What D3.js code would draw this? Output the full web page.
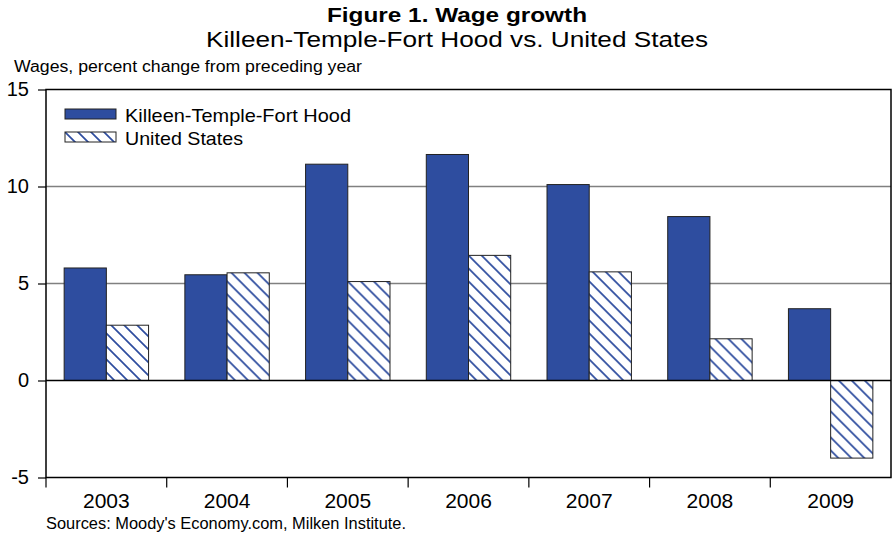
<!DOCTYPE html>
<html>
<head>
<meta charset="utf-8">
<script src="https://cdn.jsdelivr.net/npm/d3@7"></script>
<style>
  html, body { margin: 0; padding: 0; background: #fff; }
  svg { display: block; font-family: "Liberation Sans", Arial, sans-serif; }
</style>
</head>
<body>
<svg id="chart" width="892" height="533"></svg>
<script>
// Annual wage growth, percent change from preceding year
const years = ["2003", "2004", "2005", "2006", "2007", "2008", "2009"];
const killeen = [5.8, 5.45, 11.15, 11.65, 10.1, 8.45, 3.7];
const unitedStates = [2.85, 5.55, 5.1, 6.45, 5.6, 2.15, -4.0];
const seriesNames = ["Killeen-Temple-Fort Hood", "United States"];
const yTicks = [-5, 0, 5, 10, 15];

const blue = "#2e4d9f";
const svg = d3.select("#chart");
const margin = { left: 46, right: 891, top: 89.5, bottom: 477.5 };

const x = d3.scaleBand().domain(years).range([margin.left, margin.right]);
const x1 = d3.scaleBand().domain(seriesNames).range([0, x.bandwidth()]).paddingOuter(0.43).paddingInner(0);
const y = d3.scaleLinear().domain([-5, 15]).range([margin.bottom, margin.top]);

// Diagonal hatch for the United States series
const P = 13;
const defs = svg.append("defs");
const pat = defs.append("pattern")
  .attr("id", "hatch").attr("patternUnits", "userSpaceOnUse")
  .attr("width", P).attr("height", P);
pat.append("rect").attr("width", P).attr("height", P).attr("fill", "#fff");
pat.append("path")
  .attr("d", `M-2,-2 L${P + 2},${P + 2} M-2,${P - 2} L2,${P + 2} M${P - 2},-2 L${P + 2},2`)
  .attr("stroke", blue).attr("stroke-width", 1.7);

// Horizontal gridlines
svg.append("g").selectAll("line").data([5, 10]).join("line")
  .attr("x1", margin.left).attr("x2", margin.right)
  .attr("y1", d => y(d)).attr("y2", d => y(d))
  .attr("stroke", "#808080").attr("stroke-width", 1.5);

// Bars
const groups = svg.append("g").selectAll("g").data(years).join("g")
  .attr("transform", d => `translate(${x(d)},0)`);
groups.selectAll("rect").data((d, i) => [
  { s: seriesNames[0], v: killeen[i] },
  { s: seriesNames[1], v: unitedStates[i] }
]).join("rect")
  .attr("x", d => x1(d.s))
  .attr("width", x1.bandwidth())
  .attr("y", d => y(Math.max(0, d.v)))
  .attr("height", d => Math.abs(y(d.v) - y(0)))
  .attr("fill", d => d.s === seriesNames[0] ? blue : "url(#hatch)")
  .attr("stroke", "#222").attr("stroke-width", 1);

// Zero line
svg.append("line")
  .attr("x1", margin.left).attr("x2", margin.right)
  .attr("y1", y(0)).attr("y2", y(0))
  .attr("stroke", "#000").attr("stroke-width", 1.5);

// Plot frame
svg.append("rect")
  .attr("x", margin.left).attr("y", margin.top)
  .attr("width", margin.right - margin.left).attr("height", margin.bottom - margin.top)
  .attr("fill", "none").attr("stroke", "#000").attr("stroke-width", 1.5);

// Y axis
const yAxis = svg.append("g").attr("transform", `translate(${margin.left},0)`)
  .call(d3.axisLeft(y).tickValues(yTicks).tickSize(8).tickPadding(9).tickFormat(d => String(d)));
yAxis.select(".domain").remove();
yAxis.selectAll("line").attr("stroke", "#000").attr("stroke-width", 1.2);
yAxis.selectAll("text").attr("font-size", 20).attr("fill", "#000")
  .attr("font-family", "Liberation Sans, Arial, sans-serif");

// X axis: ticks at category boundaries, labels centered
const bounds = years.map(d => x(d));
svg.append("g").selectAll("line").data(bounds).join("line")
  .attr("x1", d => d).attr("x2", d => d)
  .attr("y1", margin.bottom).attr("y2", margin.bottom + 10)
  .attr("stroke", "#000").attr("stroke-width", 1.2);
svg.append("g").selectAll("text").data(years).join("text")
  .attr("x", d => x(d) + x.bandwidth() / 2).attr("y", 508)
  .attr("text-anchor", "middle").attr("font-size", 21).text(d => d);

// Titles
svg.append("text").attr("x", 457).attr("y", 22).attr("text-anchor", "middle")
  .attr("font-size", 21).attr("font-weight", "bold")
  .attr("textLength", 260).attr("lengthAdjust", "spacingAndGlyphs")
  .text("Figure 1. Wage growth");
svg.append("text").attr("x", 457).attr("y", 47).attr("text-anchor", "middle")
  .attr("font-size", 22)
  .attr("textLength", 502).attr("lengthAdjust", "spacingAndGlyphs")
  .text("Killeen-Temple-Fort Hood vs. United States");
svg.append("text").attr("x", 14).attr("y", 72).attr("font-size", 16)
  .attr("textLength", 348).attr("lengthAdjust", "spacingAndGlyphs")
  .text("Wages, percent change from preceding year");
svg.append("text").attr("x", 46).attr("y", 529).attr("font-size", 16)
  .attr("textLength", 360).attr("lengthAdjust", "spacingAndGlyphs")
  .text("Sources: Moody's Economy.com, Milken Institute.");

// Legend
const legendWidths = [226, 118];
const legend = svg.append("g").selectAll("g").data(seriesNames).join("g")
  .attr("transform", (d, i) => `translate(65,${109 + i * 23})`);
legend.append("rect").attr("width", 51).attr("height", 10)
  .attr("fill", (d, i) => i === 0 ? blue : "url(#hatch)")
  .attr("stroke", "#222").attr("stroke-width", 1);
legend.append("text").attr("x", 60).attr("y", 13).attr("font-size", 19)
  .attr("textLength", (d, i) => legendWidths[i]).attr("lengthAdjust", "spacingAndGlyphs")
  .text(d => d);
</script>
</body>
</html>
